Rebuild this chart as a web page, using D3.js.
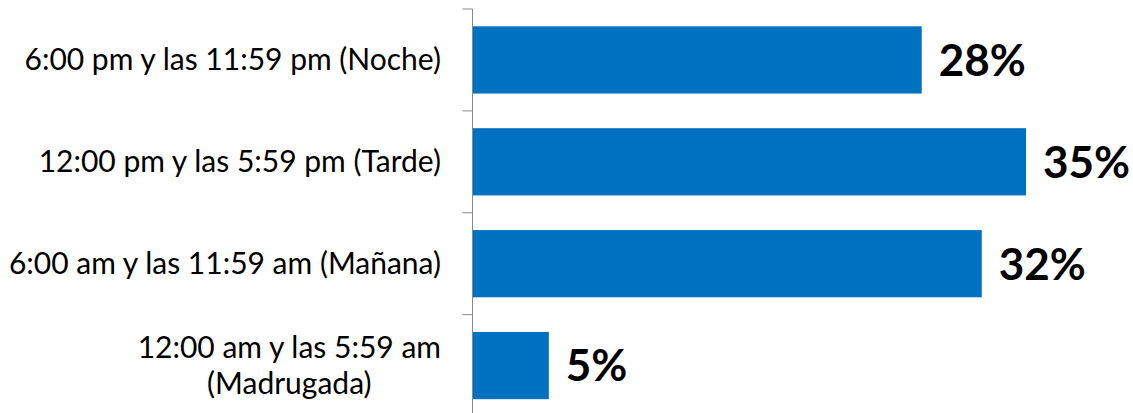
<!DOCTYPE html>
<html><head><meta charset="utf-8">
<script src="https://cdn.jsdelivr.net/npm/d3@7"></script>
<style>body{margin:0;background:#fff}svg{display:block}</style>
</head><body>
<svg id="c" width="1133" height="413"></svg>
<script>
const categories = [
  "6:00 pm y las 11:59 pm (Noche)",
  "12:00 pm y las 5:59 pm (Tarde)",
  "6:00 am y las 11:59 am (Mañana)",
  "12:00 am y las 5:59 am\n(Madrugada)"
];
const values = [28.4, 35.0, 32.2, 4.8];

const svg = d3.select("#c");
const axisX = 472.5, barX0 = 473;
const y = d3.scaleBand().domain(categories).range([9, 416.5]).paddingInner(0.34).paddingOuter(0.17);
const x = d3.scaleLinear().domain([0, 35]).range([barX0, 1026]);
const step = y.step();
const font = "Lato, 'Open Sans', sans-serif";

// bars
svg.selectAll("rect.bar").data(values).join("rect")
  .attr("x", barX0).attr("y", (d,i)=>y(categories[i]))
  .attr("width", d=>x(d)-barX0).attr("height", y.bandwidth())
  .attr("fill", "#0070C0");

// axis
const g = svg.append("g").attr("transform", `translate(${axisX},0)`);
const axis = d3.axisLeft(y).tickSize(0).tickFormat("");
g.call(axis);
g.select(".domain").remove();
g.append("line").attr("x1",0).attr("x2",0).attr("y1",y.range()[0]).attr("y2",y.range()[1]).attr("stroke","#898989");
const bounds = categories.map(c=>y(c)-step*y.paddingInner()/2).concat([y.range()[1]]);
g.selectAll("line.tk").data(bounds).join("line").attr("class","tk")
  .attr("x1",-10).attr("x2",0).attr("y1",d=>d).attr("y2",d=>d).attr("stroke","#898989");

// category labels
const labelRight = 441;
categories.forEach(c=>{
  const lines = c.split("\n");
  const cy = y(c)+y.bandwidth()/2;
  const t = svg.append("text").attr("font-family",font).attr("font-size",30).attr("fill","#000");
  const lh = 36;
  lines.forEach((l,k)=>{
    t.append("tspan").text(l).attr("y", cy + (k-(lines.length-1)/2)*lh).attr("dy","0.35em");
  });
  if (lines.length===1) { t.attr("text-anchor","end").selectAll("tspan").attr("x",labelRight); }
  else {
    let w = 0; t.selectAll("tspan").each(function(){w=Math.max(w,this.getComputedTextLength());});
    t.attr("text-anchor","middle").selectAll("tspan").attr("x",labelRight-w/2);
  }
});

// value labels
svg.selectAll("text.val").data(values).join("text").attr("class","val")
  .attr("x", d=>x(d)+17).attr("y",(d,i)=>y(categories[i])+y.bandwidth()/2).attr("dy","0.36em")
  .attr("font-family",font).attr("font-weight","bold").attr("font-size",44).attr("fill","#000")
  .text(d=>d3.format(".0f")(d)+"%");
</script>
</body></html>
